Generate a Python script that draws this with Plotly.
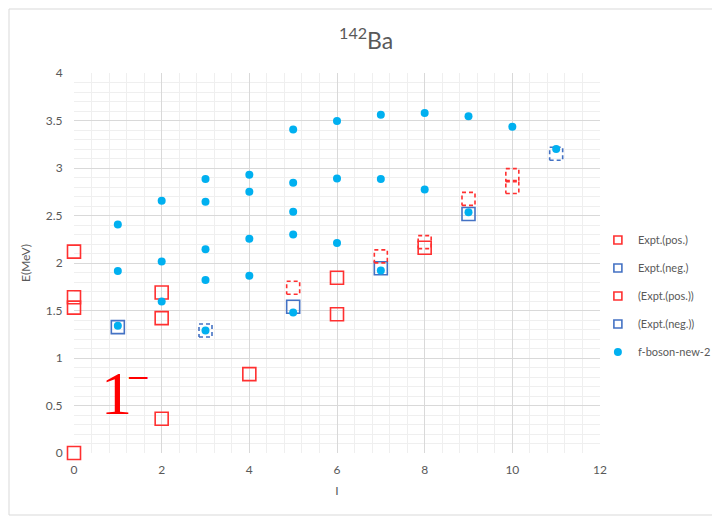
import plotly.graph_objects as go

# ---- data ----
pos_x = [0, 0, 0, 0, 2, 2, 2, 4, 6, 6, 8]
pos_y = [0.0, 2.12, 1.64, 1.53, 1.69, 1.42, 0.36, 0.83, 1.845, 1.46, 2.16]

neg_x = [1, 5, 7, 9]
neg_y = [1.325, 1.54, 1.945, 2.515]

pos_tent_x = [5, 7, 8, 9, 10, 10]
pos_tent_y = [1.74, 2.07, 2.22, 2.675, 2.925, 2.80]

neg_tent_x = [3, 11]
neg_tent_y = [1.29, 3.15]

fb_x = [1, 1, 1,
        2, 2, 2,
        3, 3, 3, 3, 3,
        4, 4, 4, 4,
        5, 5, 5, 5, 5,
        6, 6, 6,
        7, 7, 7,
        8, 8,
        9, 9,
        10, 11]
fb_y = [2.405, 1.915, 1.34,
        2.655, 2.015, 1.595,
        2.885, 2.645, 2.145, 1.82, 1.29,
        2.93, 2.75, 2.255, 1.865,
        3.405, 2.845, 2.54, 2.30, 1.48,
        3.495, 2.89, 2.21,
        3.56, 2.885, 1.92,
        3.58, 2.775,
        3.545, 2.535,
        3.435, 3.20]

x_ticks = [0, 2, 4, 6, 8, 10, 12]
y_ticks = [0, 0.5, 1, 1.5, 2, 2.5, 3, 3.5, 4]
y_tick_labels = ["0", "0.5", "1", "1.5", "2", "2.5", "3", "3.5", "4"]
legend_names = ["Expt.(pos.)", "Expt.(neg.)", "(Expt.(pos.))", "(Expt.(neg.))", "f-boson-new-2"]

# ---- layout params (page has an 8px body margin) ----
W, H = 712, 508
ML, MR, MT, MB = 66, 120, 65, 63
XR = [0, 12]
YR = [0, 4]
RED = "#FF3030"
BLUE = "#4472C4"
CYAN = "#00B0F0"
GREY = "#595959"
FONT = "Lato, Liberation Sans, sans-serif"

px_per_x = (W - ML - MR) / (XR[1] - XR[0])
px_per_y = (H - MT - MB) / (YR[1] - YR[0])
half = 6.5  # half side of a marker box, px


def dashed_boxes(xs, ys):
    bx, by = [], []
    hx, hy = half / px_per_x, half / px_per_y
    for x, y in zip(xs, ys):
        bx += [x - hx, x + hx, x + hx, x - hx, x - hx, None]
        by += [y - hy, y - hy, y + hy, y + hy, y - hy, None]
    return bx, by


fig = go.Figure()

fig.add_trace(go.Scatter(
    x=pos_x, y=pos_y, mode="markers", name=legend_names[0], showlegend=False,
    marker=dict(symbol="square-open", size=13, color=RED, line=dict(width=1.6, color=RED)),
    cliponaxis=False))

fig.add_trace(go.Scatter(
    x=neg_x, y=neg_y, mode="markers", name=legend_names[1], showlegend=False,
    marker=dict(symbol="square-open", size=13, color=BLUE, line=dict(width=1.6, color=BLUE)),
    cliponaxis=False))

bx, by = dashed_boxes(pos_tent_x, pos_tent_y)
fig.add_trace(go.Scatter(
    x=bx, y=by, mode="lines", name=legend_names[2], showlegend=False,
    line=dict(color=RED, width=1.6, dash="4px,3px"), cliponaxis=False, hoverinfo="skip"))

bx, by = dashed_boxes(neg_tent_x, neg_tent_y)
fig.add_trace(go.Scatter(
    x=bx, y=by, mode="lines", name=legend_names[3], showlegend=False,
    line=dict(color=BLUE, width=1.6, dash="4px,3px"), cliponaxis=False, hoverinfo="skip"))

fig.add_trace(go.Scatter(
    x=fb_x, y=fb_y, mode="markers", name=legend_names[4], showlegend=False,
    marker=dict(symbol="circle", size=8, color=CYAN),
    cliponaxis=False))

# legend entries (small symbols as in the source)
leg_styles = [
    dict(symbol="square-open", size=8, color=RED, line=dict(width=1.6, color=RED)),
    dict(symbol="square-open", size=8, color=BLUE, line=dict(width=1.6, color=BLUE)),
    dict(symbol="square-open", size=8, color=RED, line=dict(width=1.6, color=RED)),
    dict(symbol="square-open", size=8, color=BLUE, line=dict(width=1.6, color=BLUE)),
    dict(symbol="circle", size=8, color=CYAN),
]
for i, (nm, st) in enumerate(zip(legend_names, leg_styles)):
    fig.add_trace(go.Scatter(x=[None], y=[None], mode="markers", name=nm,
                             marker=st, legendgroup="g%d" % i, showlegend=True))

# 1^- label
fig.add_annotation(x=0.98, y=0.635, xref="x", yref="y", text="1", showarrow=False,
                   font=dict(family="Liberation Serif, Times New Roman, serif", size=62, color="#FF0000"))
fig.add_annotation(x=1.47, y=0.80, xref="x", yref="y", text="\u2212", showarrow=False,
                   font=dict(family="Liberation Serif, Times New Roman, serif", size=40, color="#FF0000"))

fig.update_layout(
    width=W, height=H,
    margin=dict(l=ML, r=MR, t=MT, b=MB, autoexpand=False),
    paper_bgcolor="white", plot_bgcolor="white",
    font=dict(family=FONT, color=GREY, size=12),
    title=dict(text="<sup>142</sup>Ba", x=0.503, xanchor="center", y=0.936, yanchor="middle",
               font=dict(size=23, color=GREY, family=FONT)),
    showlegend=True,
    legend=dict(x=0.996, xanchor="left", y=0.413, yanchor="middle",
                font=dict(size=11, color=GREY), tracegroupgap=9,
                bgcolor="rgba(0,0,0,0)", itemwidth=30),
    xaxis=dict(range=XR, tickvals=x_ticks, ticktext=[str(v) for v in x_ticks],
               showgrid=True, gridcolor="#D9D9D9", gridwidth=1,
               minor=dict(dtick=0.4, showgrid=True, gridcolor="#EFEFEF", gridwidth=1),
               zeroline=False, showline=False, ticks="outside", ticklen=6,
               tickcolor="rgba(0,0,0,0)", automargin=False,
               title=dict(text="I", font=dict(size=12, color=GREY), standoff=10),
               tickfont=dict(size=12, color=GREY)),
    yaxis=dict(range=YR, tickvals=y_ticks, ticktext=y_tick_labels,
               showgrid=True, gridcolor="#D9D9D9", gridwidth=1,
               minor=dict(dtick=0.1, showgrid=True, gridcolor="#EFEFEF", gridwidth=1),
               zeroline=False, showline=False, ticks="outside", ticklen=8,
               tickcolor="rgba(0,0,0,0)", automargin=False,
               title=dict(text="E(MeV)", font=dict(size=12, color=GREY), standoff=12),
               tickfont=dict(size=12, color=GREY)),
)

# light frame around the chart area (as in the source)
fig.add_shape(type="rect", xref="paper", yref="paper",
              x0=-(ML - 1) / (W - ML - MR), x1=1 + (MR - 2) / (W - ML - MR),
              y0=-(MB - 1) / (H - MT - MB), y1=1 + (MT - 1) / (H - MT - MB),
              line=dict(color="#D9D9D9", width=1), layer="below")

fig.write_html("out.html")
